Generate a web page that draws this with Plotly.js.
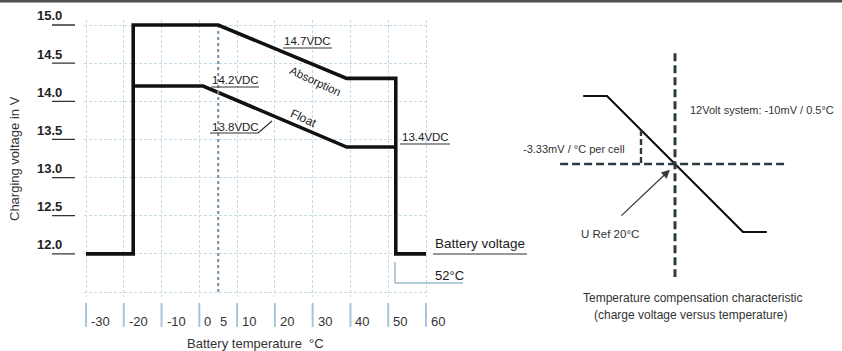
<!DOCTYPE html>
<html><head><meta charset="utf-8">
<script src="https://cdn.plot.ly/plotly-3.0.1.min.js"></script>
<style>html,body{margin:0;padding:0;background:#fff;}#chart{width:842px;height:351px;}</style>
</head><body><div id="chart"></div>
<script>
// ---------------- data ----------------
const tempTickLabels = [-30, -20, -10, 0, 5, 10, 20, 30, 40, 50, 60];
const tempGrid = [-30, -20, -10, 0, 10, 20, 30, 40, 50, 60];
const voltTickLabels = [12.0, 12.5, 13.0, 13.5, 14.0, 14.5, 15.0];
const voltGrid = [11.5, 12.0, 12.5, 13.0, 13.5, 14.0, 14.5, 15.0];
// absorption / battery voltage curve
const absTemp = [-30, -17.5, -17.5, 5, 39, 52, 52, 60];
const absVolt = [12.0, 12.0, 15.0, 15.0, 14.3, 14.3, 12.0, 12.0];
// float curve
const floatTemp = [-17.5, 1, 39, 52];
const floatVolt = [14.2, 14.2, 13.4, 13.4];
// compensation characteristic (relative units, reference point at 0,0)
const compTemp = [-2.7, -2, 2, 2.7];
const compVolt = [2, 2, -2, -2];
const compRefT = [0, 0];          // vertical dashed axis
const compRefTV = [3.26, -3.32];
const compRefVT = [-3.38, 3.24];  // horizontal dashed axis
const compRefV = [0, 0];
const compStepT = [-1, -1];       // per-cell drop
const compStepV = [1, 0];

// ---------------- geometry helpers ----------------
const W = 842, H = 351;
const PX = x => x / W, PY = y => 1 - y / H;
const FONT = 'Liberation Sans, Arial, sans-serif';
const xPxLo = 86, xPxHi = 426, tLo = -30, tHi = 60;
const yPxLo = 292, yPxHi = 25, vLo = 11.5, vHi = 15.0;
const pxPerT = (xPxHi - xPxLo) / (tHi - tLo);
const pxPerV = (yPxLo - yPxHi) / (vHi - vLo);
const xr = [-30.6, 60.6], yr = [11.44, 15.07];
const xDom = [PX(xPxLo + (xr[0] - tLo) * pxPerT), PX(xPxLo + (xr[1] - tLo) * pxPerT)];
const yDom = [PY(yPxLo - (yr[0] - vLo) * pxPerV), PY(yPxLo - (yr[1] - vLo) * pxPerV)];
const cU = 34, cX = 675, cY = 164;
const x2Px = [520, 842], y2Px = [300, 40];
const x2r = [(x2Px[0] - cX) / cU, (x2Px[1] - cX) / cU];
const y2r = [(cY - y2Px[0]) / cU, (cY - y2Px[1]) / cU];

const dark = '#1c1c1c', mid = '#333';
const traces = [
  {x: absTemp, y: absVolt, mode: 'lines', line: {color: '#111', width: 3.6}, xaxis: 'x', yaxis: 'y', hoverinfo: 'skip'},
  {x: floatTemp, y: floatVolt, mode: 'lines', line: {color: '#111', width: 3.6}, xaxis: 'x', yaxis: 'y', hoverinfo: 'skip'},
  {x: compTemp, y: compVolt, mode: 'lines', line: {color: '#111', width: 2.2}, xaxis: 'x2', yaxis: 'y2', hoverinfo: 'skip'},
  {x: compRefT, y: compRefTV, mode: 'lines', line: {color: '#2e3a42', width: 3, dash: '8px,4px'}, xaxis: 'x2', yaxis: 'y2', hoverinfo: 'skip'},
  {x: compRefVT, y: compRefV, mode: 'lines', line: {color: '#2e3a42', width: 2.4, dash: '8px,4px'}, xaxis: 'x2', yaxis: 'y2', hoverinfo: 'skip'},
  {x: compStepT, y: compStepV, mode: 'lines', line: {color: '#2e3a42', width: 2.4, dash: '6px,3px'}, xaxis: 'x2', yaxis: 'y2', hoverinfo: 'skip'}
];

const shapes = [];
const annotations = [];
function ann(text, x, y, o) {
  annotations.push(Object.assign({text: text, x: x, y: y, xref: 'paper', yref: 'paper', showarrow: false,
    xanchor: 'center', yanchor: 'middle', font: {family: FONT, size: 12, color: dark}}, o || {}));
}
function seg(x0, y0, x1, y1, color, width) {
  shapes.push({type: 'line', xref: 'paper', yref: 'paper', x0: PX(x0), y0: PY(y0), x1: PX(x1), y1: PY(y1),
    line: {color: color, width: width}});
}

shapes.push({type: 'rect', xref: 'paper', yref: 'paper', x0: 0, x1: 1, y0: PY(2.5), y1: 1, fillcolor: '#505050', line: {width: 0}});

shapes.push({type: 'line', xref: 'x', yref: 'y', x0: 5, x1: 5, y0: vLo, y1: vHi - 0.03,
  line: {color: '#6f8ea2', width: 2, dash: 'dot'}});

voltTickLabels.forEach(v => {
  annotations.push({text: v.toFixed(1), xref: 'paper', yref: 'y', x: PX(64), y: v, yshift: 9, xanchor: 'right',
    yanchor: 'middle', showarrow: false, font: {family: FONT, size: 13, color: '#222', weight: 'bold'}});
  shapes.push({type: 'line', xref: 'paper', yref: 'y', x0: PX(52), x1: PX(75), y0: v, y1: v, line: {color: '#333', width: 1.3}});
});
tempTickLabels.forEach(t => {
  annotations.push({text: String(t), xref: 'x', yref: 'paper', x: t, y: PY(321), xanchor: 'left', xshift: t === 5 ? 0 : 3,
    yanchor: 'middle', showarrow: false, font: {family: FONT, size: 13, color: '#333'}});
  if (t !== 5) shapes.push({type: 'line', xref: 'x', yref: 'paper', x0: t, x1: t, y0: PY(303), y1: PY(327),
    line: {color: '#a7c6d8', width: 2}});
});

ann('Charging voltage in V', PX(15), PY(159), {textangle: -90, font: {family: FONT, size: 13, color: mid}});
ann('Battery temperature\u00a0\u00a0°C', PX(255), PY(343), {font: {family: FONT, size: 13, color: mid}});

const vf = {family: FONT, size: 11.5, color: dark};
ann('14.7VDC', PX(307), PY(41), {font: vf}); seg(283, 48, 332, 48, '#333', 1.2);
ann('14.2VDC', PX(235), PY(80), {font: vf}); seg(211, 87, 259, 87, '#333', 1.2);
ann('13.8VDC', PX(235), PY(127), {font: vf}); seg(210, 133, 258, 133, '#333', 1.2); seg(258, 133, 272, 121, '#333', 1.2);
ann('13.4VDC', PX(425), PY(137), {font: vf}); seg(400, 144, 450, 144, '#333', 1.2);
ann('Absorption', PX(315), PY(81), {textangle: 25, font: {family: FONT, size: 11.5, color: dark}});
ann('Float', PX(303), PY(118), {textangle: 25, font: {family: FONT, size: 12, color: dark}});
ann('Battery voltage', PX(433), PY(243), {xanchor: 'left', font: {family: FONT, size: 13.5, color: dark}});
seg(433, 254, 527, 254, '#333', 1.2);
ann('52°C', PX(433), PY(275), {xanchor: 'left', font: {family: FONT, size: 13, color: dark}});
seg(395, 262, 395, 283, '#9ab8ca', 1.5); seg(395, 283, 463, 283, '#9ab8ca', 1.5);

ann('12Volt system: -10mV / 0.5°C', PX(688), PY(110), {xanchor: 'left', font: {family: FONT, size: 11, color: mid}});
ann('-3.33mV / °C per cell', PX(627), PY(149), {xanchor: 'right', font: {family: FONT, size: 11, color: mid}});
ann('U Ref 20°C', PX(610), PY(234), {font: {family: FONT, size: 11.5, color: mid}});
ann('Temperature compensation characteristic', PX(692), PY(298), {font: {family: FONT, size: 12, color: mid}});
ann('(charge voltage versus temperature)', PX(690), PY(315), {font: {family: FONT, size: 12, color: mid}});
annotations.push({text: '', xref: 'x2', yref: 'y2', axref: 'x2', ayref: 'y2', x: -0.15, y: -0.17, ax: -1.62, ay: -1.56,
  showarrow: true, arrowhead: 2, arrowsize: 1.3, arrowwidth: 1.3, arrowcolor: '#3a3a3a'});

const gridCol = '#c6dbe7';
const layout = {
  width: W, height: H, margin: {l: 0, r: 0, t: 0, b: 0}, showlegend: false,
  paper_bgcolor: '#fff', plot_bgcolor: 'rgba(0,0,0,0)',
  xaxis: {domain: xDom, range: xr, tickmode: 'array', tickvals: tempGrid, showticklabels: false, ticks: '',
    showgrid: true, gridcolor: gridCol, gridwidth: 1, griddash: '3px,2px', zeroline: false, showline: false, fixedrange: true},
  yaxis: {domain: yDom, range: yr, tickmode: 'array', tickvals: voltGrid, showticklabels: false, ticks: '',
    showgrid: true, gridcolor: gridCol, gridwidth: 1, griddash: '3px,2px', zeroline: false, showline: false, fixedrange: true},
  xaxis2: {domain: [PX(x2Px[0]), PX(x2Px[1])], range: x2r, visible: false, anchor: 'y2', fixedrange: true},
  yaxis2: {domain: [PY(y2Px[0]), PY(y2Px[1])], range: y2r, visible: false, anchor: 'x2', fixedrange: true},
  shapes: shapes, annotations: annotations
};
Plotly.newPlot('chart', traces, layout, {staticPlot: true, displayModeBar: false});
</script></body></html>
